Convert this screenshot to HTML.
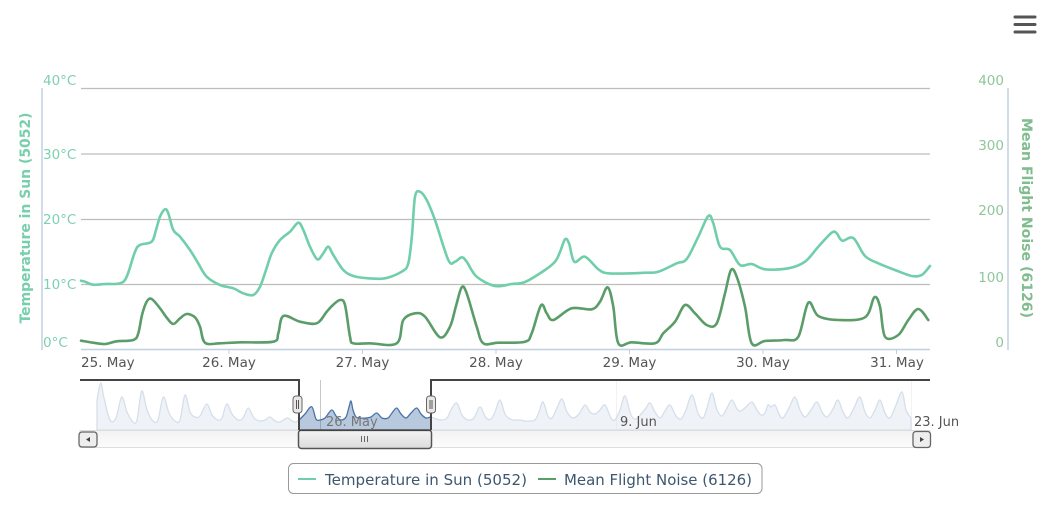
<!DOCTYPE html>
<html><head><meta charset="utf-8"><style>
html,body{margin:0;padding:0;background:#fff;}
svg{display:block;}
text{font-family:"DejaVu Sans","Liberation Sans",sans-serif;}
</style></head><body>
<svg id="c" width="1050" height="511" viewBox="0 0 1050 511" xmlns="http://www.w3.org/2000/svg">
<rect width="1050" height="511" fill="#fff"/>
<g stroke="#555" stroke-width="3" stroke-linecap="round">
<line x1="1015" y1="17" x2="1035" y2="17"/><line x1="1015" y1="24.5" x2="1035" y2="24.5"/><line x1="1015" y1="32" x2="1035" y2="32"/>
</g>
<g stroke="#bdbdbd" stroke-width="1.2">
<line x1="81" y1="88.5" x2="930" y2="88.5"/>
<line x1="81" y1="154" x2="930" y2="154"/>
<line x1="81" y1="219.5" x2="930" y2="219.5"/>
<line x1="81" y1="284.5" x2="930" y2="284.5"/>
</g>
<line x1="81" y1="349.5" x2="930" y2="349.5" stroke="#c0d0e0" stroke-width="1.5"/>
<g stroke="#c0d0e0" stroke-width="1">
<line x1="229" y1="349" x2="229" y2="354"/><line x1="362.5" y1="349" x2="362.5" y2="354"/><line x1="496" y1="349" x2="496" y2="354"/><line x1="629.5" y1="349" x2="629.5" y2="354"/><line x1="763" y1="349" x2="763" y2="354"/><line x1="896.5" y1="349" x2="896.5" y2="354"/>
</g>
<line x1="42" y1="88" x2="42" y2="350" stroke="#c0d0e0" stroke-width="1.5"/>
<line x1="1008" y1="88" x2="1008" y2="350" stroke="#c0d0e0" stroke-width="1.5"/>
<g fill="#7fd0b0" font-size="13.5">
<text x="43" y="85">40°C</text><text x="43" y="159">30°C</text><text x="43" y="224">20°C</text><text x="43" y="289">10°C</text><text x="43" y="347">0°C</text>
</g>
<g fill="#8fc79b" font-size="13.5" text-anchor="end">
<text x="1004" y="85">400</text><text x="1004" y="150">300</text><text x="1004" y="215">200</text><text x="1004" y="282">100</text><text x="1004" y="347">0</text>
</g>
<text transform="translate(30,218) rotate(-90)" text-anchor="middle" fill="#78cfad" font-size="14" font-weight="bold" textLength="211" lengthAdjust="spacingAndGlyphs">Temperature in Sun (5052)</text>
<text transform="translate(1022,218) rotate(90)" text-anchor="middle" fill="#7fbd8e" font-size="14" font-weight="bold" textLength="200" lengthAdjust="spacingAndGlyphs">Mean Flight Noise (6126)</text>
<g fill="#555" font-size="13.5">
<text x="81" y="367">25. May</text>
<text x="229" y="367" text-anchor="middle">26. May</text>
<text x="362.5" y="367" text-anchor="middle">27. May</text>
<text x="496" y="367" text-anchor="middle">28. May</text>
<text x="629.5" y="367" text-anchor="middle">29. May</text>
<text x="763" y="367" text-anchor="middle">30. May</text>
<text x="897" y="367" text-anchor="middle">31. May</text>
</g>
<polyline class="s" fill="none" stroke="#70cfaa" stroke-width="2.6" stroke-linejoin="round" stroke-linecap="round" points="81,280.7 85,281.7 93,284.7 105,284 120,283.3 126.7,276.7 135,251.7 140,245 151.7,241.7 156,230 160,216.7 165,209.3 168.3,213.3 173.3,230 180,236.7 190,250 198,263 206.7,276.7 220,285 233.3,288.3 243.3,293.3 253.3,295 260,286.7 266,270 271.7,253.3 280,240 290,231.7 298.3,222.7 303.3,230 310,246.7 317.3,259.3 323.3,253.3 328.3,246.7 333.3,255 343.3,270 353.3,276 368.3,278.3 385,278.3 401.7,271.7 408.3,263.3 412,235 415,196.7 420,191.7 426.7,200 435,220 448.3,260 455,261.7 461.7,257.3 466.7,261.7 476.7,276.7 495,286 511.7,284 525,282 545,270 555,261.7 560,252 565,239.3 569,243.3 574.3,261.7 585,256.7 598.3,269.3 608.3,273.3 631.7,273.3 645,272.7 658.3,271.7 676.7,263.3 686.7,259 698.3,236.7 708.3,216 713.3,223.3 720,246.7 730,250 740,265 751.7,264 765,269.3 788.3,268.3 805,261.7 818.3,246.7 831.7,232.7 836.7,233.3 842.3,240.7 853.3,238 865,256 878.3,263.3 895,270 911.7,276 921.7,275 930,266"/>
<polyline class="s" fill="none" stroke="#5b9d69" stroke-width="2.6" stroke-linejoin="round" stroke-linecap="round" points="81,340.7 93.3,342.7 105,344 116.7,341.3 133.3,340 138.3,333.3 142,315 146.7,301.7 151.7,299 160,308.3 167,318 173.3,324 180,318.3 186.7,314 195,317.3 200,326.7 205,342.7 220,343.3 240,342.3 273.3,341.7 278.3,333.3 283.3,316 300,321.7 316.7,323.3 326.7,311.7 333,305 340,300 345,305 350,336.7 353.3,343.3 370,343.3 396.7,343.3 403.3,320 415,313.3 425,316.7 440,337.3 450,326.7 456,306 461.7,287.3 466.7,293.3 476.7,326.7 483.3,343.3 498.3,342.7 525,341.7 531.7,333.3 541,305.3 546.7,313.3 553.3,320 571.7,308.3 591.7,309.3 600,301.7 607.7,287.3 613.3,306.7 618.3,343.3 631.7,342.3 655,343.3 663.3,333.3 675,321.7 685,305 695,313.3 706.7,325 716.7,323.3 725,293.3 731,270 736.7,276.7 745,306.7 751.7,343.3 765,341 785,340 798.3,336.7 808.3,302.7 818.3,316 838.3,320 865,317.3 874.3,297.3 880,306.7 885,336.7 898.3,335 908.3,320 918.3,309 928.3,320"/>
<g stroke="#c8c8c8" stroke-width="1">
<line x1="320.5" y1="380" x2="320.5" y2="430"/><line x1="616.5" y1="380" x2="616.5" y2="430"/><line x1="911.5" y1="380" x2="911.5" y2="430"/>
</g>
<polyline class="sa" fill="rgba(69,114,167,0.38)" stroke="#4a74a8" stroke-width="1.3" stroke-linejoin="round" points="97,430 97,400 100.7,383 104,398 110,420 116,418 121.7,397 127,412 133,422 137,420 141.7,391 147,410 153,421 158,420 163.3,397 169,413 175,421 180,420 185,395 190,412 195,417 200,416 206.7,404 212,415 218,420 222,418 226.7,404 232,414 238,420 243,418 248.3,408 254,418 260,421 265,420 270,417 275,421 280,422 285,419 288,418 292,421 296,422 299,420 305,414 311.7,406.7 316,419 320,420 325,418 331.7,410 336,416 341,420 346,417 349,407 351,401 353,410 356,417 360,418 366,418 371,417 376.7,413 382,418 388,418 392,413 396.7,408 401,414 406,418 411,413 416.7,408 421,414 426,418 431,417 436,419 442,420 447,418 451,410 456.7,403 462,415 468,420 474,418 480,407 486,418 491,419 495,412 500,400 505,414 510,419 515,420 520,420 525,421 530,421 535,420 539,412 543,402 548,416 552,418 557,408 562,399 567,412 573,418 579,414 585,405 590,412 595,414 600,410 605,405 611,418 615,420 620,410 625,396 631,415 636,419 641,414 646,408 650,403 655,412 660,418 665,411 670,405 676,416 681,419 686,410 692,395 698,413 703,418 707,408 712,393 717,410 722,416 727,408 732,400 737,409 741,411 746,407 752,402 757,410 761,415 765,413 768,405 771,407 775,405 779,414 783,418 789,408 795,397 800,410 805,417 811,410 817,402 822,412 827,417 833,409 838,400 843,412 848,418 854,408 860,397 865,412 870,418 875,410 880,400 885,413 890,418 896,405 902,392 906,410 911,418 911,430"/>
<rect x="80" y="379" width="219" height="52" fill="rgba(255,255,255,0.77)"/>
<rect x="431" y="379" width="500" height="52" fill="rgba(255,255,255,0.77)"/>
<defs>
<linearGradient id="tr" x1="0" y1="0" x2="0" y2="1"><stop offset="0" stop-color="#f2f2f2"/><stop offset="1" stop-color="#fcfcfc"/></linearGradient>
<linearGradient id="th" x1="0" y1="0" x2="0" y2="1"><stop offset="0" stop-color="#f4f4f4"/><stop offset="1" stop-color="#dcdcdc"/></linearGradient>
</defs>
<rect x="80" y="430.5" width="850" height="17" fill="url(#tr)" stroke="#ddd" stroke-width="1"/>
<rect x="298.5" y="430" width="133" height="18.5" rx="3" fill="url(#th)" stroke="#555" stroke-width="1.5"/>
<g stroke="#666" stroke-width="1"><line x1="361.5" y1="436" x2="361.5" y2="442"/><line x1="364.5" y1="436" x2="364.5" y2="442"/><line x1="367.5" y1="436" x2="367.5" y2="442"/></g>
<rect x="79" y="432" width="18" height="15" rx="3" fill="#eee" stroke="#666" stroke-width="1.3"/>
<path d="M86,439.5 L90,437 L90,442 Z" fill="#444"/>
<rect x="913" y="431.5" width="17.5" height="16" rx="3" fill="#eee" stroke="#666" stroke-width="1.3"/>
<path d="M924,439.5 L920,437 L920,442 Z" fill="#444"/>
<path d="M80,380 L299,380 L299,430" fill="none" stroke="#444" stroke-width="2"/>
<path d="M431,430 L431,380 L930,380" fill="none" stroke="#444" stroke-width="2"/>
<line x1="299" y1="430.5" x2="431" y2="430.5" stroke="#444" stroke-width="1.2"/>
<rect x="293" y="396" width="9" height="17" rx="3" fill="#ebe7e8" stroke="#666" stroke-width="1"/>
<g stroke="#555" stroke-width="1"><line x1="296.5" y1="400" x2="296.5" y2="409"/><line x1="298.5" y1="400" x2="298.5" y2="409"/></g>
<rect x="426.5" y="396" width="9" height="17" rx="3" fill="#ebe7e8" stroke="#666" stroke-width="1"/>
<g stroke="#555" stroke-width="1"><line x1="430" y1="400" x2="430" y2="409"/><line x1="432" y1="400" x2="432" y2="409"/></g>
<g font-size="13" fill="#666">
<text x="326" y="426" fill="#777">26. May</text>
<text x="620" y="426" fill="#555">9. Jun</text>
<text x="914" y="426" fill="#555">23. Jun</text>
</g>
<rect x="288.5" y="463.5" width="473.5" height="30" rx="5" fill="#fff" stroke="#999" stroke-width="1"/>
<line x1="298" y1="479" x2="316" y2="479" stroke="#70cfaa" stroke-width="2"/>
<line x1="538" y1="479" x2="556" y2="479" stroke="#5b9d69" stroke-width="2"/>
<g font-size="14.8" fill="#3e576f">
<text x="325" y="485" textLength="202" lengthAdjust="spacingAndGlyphs">Temperature in Sun (5052)</text>
<text x="564" y="485" textLength="188" lengthAdjust="spacingAndGlyphs">Mean Flight Noise (6126)</text>
</g>
</svg>
<script>
(function(){
var NS="http://www.w3.org/2000/svg";
function pts(el){return el.getAttribute("points").trim().split(/\s+/).map(function(s){return s.split(",").map(Number);});}
function smooth(p){
  var d="M"+p[0][0]+","+p[0][1];
  for(var i=0;i<p.length-1;i++){
    var p0=p[i-1]||p[i],p1=p[i],p2=p[i+1],p3=p[i+2]||p2;
    var c1x=p1[0]+(p2[0]-p0[0])/6,c1y=p1[1]+(p2[1]-p0[1])/6;
    var c2x=p2[0]-(p3[0]-p1[0])/6,c2y=p2[1]-(p3[1]-p1[1])/6;
    d+=" C"+c1x.toFixed(2)+","+c1y.toFixed(2)+" "+c2x.toFixed(2)+","+c2y.toFixed(2)+" "+p2[0]+","+p2[1];
  }
  return d;
}
function conv(el,closed){
  var p=pts(el),d;
  if(closed){
    var inner=p.slice(1,p.length-1);
    d="M"+p[0][0]+","+p[0][1]+" L"+smooth(inner).slice(1)+" L"+p[p.length-1][0]+","+p[p.length-1][1]+" Z";
  } else d=smooth(p);
  var path=document.createElementNS(NS,"path");
  for(var i=0;i<el.attributes.length;i++){var a=el.attributes[i];if(a.name!=="points"&&a.name!=="class")path.setAttribute(a.name,a.value);}
  path.setAttribute("d",d);
  el.parentNode.replaceChild(path,el);
}
try{
  var a=document.querySelectorAll("polyline.s");for(var i=0;i<a.length;i++)conv(a[i],false);
  var b=document.querySelectorAll("polyline.sa");for(var j=0;j<b.length;j++)conv(b[j],true);
}catch(e){}
})();
</script>
</body></html>
